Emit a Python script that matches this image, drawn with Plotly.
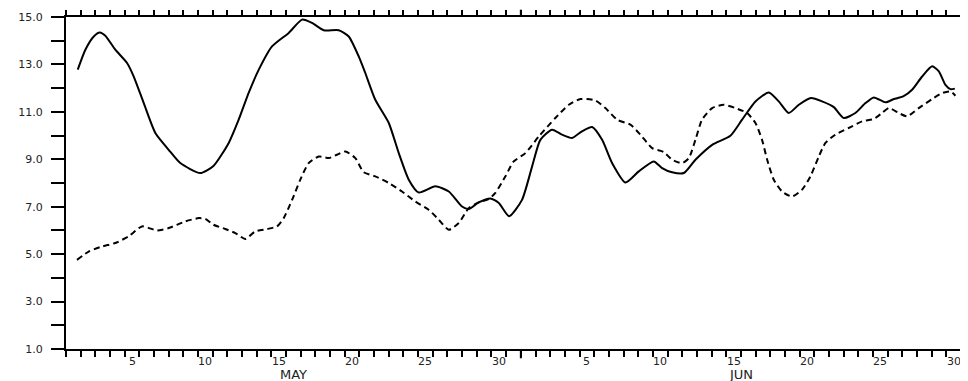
import plotly.graph_objects as go

# x: days since 1 May 00Z (May d centre = d-0.5, Jun d centre = 30.5+d)
solid_x = [0.80, 1.32, 1.89, 2.30, 2.68, 3.36, 4.16, 4.61, 5.30, 6.09, 7.00, 7.79, 9.15, 10.05,
           11.09, 11.77, 12.45, 13.14, 14.04, 15.18, 16.09, 16.77, 17.57, 18.59, 19.27, 19.95,
           20.38, 21.08, 22.00, 22.68, 23.36, 24.04, 25.17, 26.09, 26.99, 27.45, 28.13, 28.92,
           29.50, 30.20, 31.08, 31.77, 32.33, 33.13, 33.81, 34.49, 35.17, 35.86, 36.54, 37.22,
           38.13, 39.04, 40.06, 40.63, 41.31, 42.11, 42.90, 44.04, 45.28, 46.08, 46.99, 47.90,
           48.58, 49.26, 49.95, 50.78, 51.53, 52.33, 53.01, 53.80, 54.49, 55.06, 55.85, 56.42,
           57.06, 57.67, 58.35, 59.03, 59.49, 59.94, 60.28, 60.58]
solid_y = [12.78, 13.62, 14.18, 14.35, 14.21, 13.62, 13.06, 12.50, 11.37, 10.11, 9.40, 8.84, 8.42, 8.72,
           9.69, 10.67, 11.80, 12.78, 13.76, 14.33, 14.89, 14.75, 14.44, 14.44, 14.18, 13.34,
           12.67, 11.51, 10.53, 9.26, 8.14, 7.60, 7.86, 7.64, 7.01, 6.90, 7.18, 7.35,
           7.16, 6.60, 7.29, 8.70, 9.82, 10.25, 10.04, 9.90, 10.18, 10.36, 9.82, 8.84,
           8.02, 8.49, 8.91, 8.63, 8.45, 8.42, 8.98, 9.61, 9.99, 10.67, 11.44, 11.82,
           11.44, 10.95, 11.30, 11.58, 11.44, 11.20, 10.74, 10.95, 11.37, 11.61, 11.40, 11.54,
           11.65, 11.93, 12.49, 12.92, 12.71, 12.14, 11.96, 11.98]

dashed_x = [0.75, 1.55, 2.45, 3.36, 4.27, 5.18, 6.20, 7.00, 8.13, 9.05, 9.50, 10.05, 10.86, 11.54,
            12.22, 12.90, 13.70, 14.38, 14.84, 15.41, 15.97, 16.54, 17.23, 17.91, 18.47, 19.04,
            19.72, 20.28, 21.08, 22.00, 22.90, 23.81, 24.72, 25.41, 26.09, 26.77, 27.45, 28.13,
            28.81, 29.26, 29.95, 30.50, 31.31, 32.22, 33.35, 34.27, 35.06, 36.08, 36.76, 37.56,
            38.47, 39.15, 39.95, 40.73, 41.31, 41.99, 42.45, 42.90, 43.35, 44.04, 44.83, 45.62,
            46.42, 46.99, 47.44, 47.79, 48.24, 48.81, 49.49, 50.17, 50.74, 51.31, 51.76, 52.44,
            53.35, 54.26, 55.06, 55.62, 56.08, 56.76, 57.33, 58.12, 59.03, 59.71, 60.28, 60.62]
dashed_y = [4.76, 5.11, 5.32, 5.47, 5.75, 6.17, 6.00, 6.10, 6.38, 6.52, 6.49, 6.24, 6.06, 5.89,
            5.64, 5.96, 6.06, 6.17, 6.52, 7.29, 8.14, 8.84, 9.12, 9.05, 9.19, 9.33,
            9.05, 8.46, 8.28, 8.00, 7.64, 7.22, 6.87, 6.45, 6.03, 6.31, 6.94, 7.18,
            7.32, 7.58, 8.28, 8.90, 9.26, 9.96, 10.74, 11.30, 11.54, 11.48, 11.16, 10.67,
            10.46, 10.04, 9.47, 9.31, 8.98, 8.84, 9.05, 9.82, 10.67, 11.16, 11.30, 11.16,
            10.95, 10.53, 9.82, 8.98, 8.14, 7.64, 7.43, 7.72, 8.28, 9.12, 9.69, 10.04,
            10.32, 10.60, 10.70, 10.95, 11.16, 10.95, 10.81, 11.16, 11.54, 11.79, 11.86, 11.68]

months = ["MAY", "JUN"]
month_days = [31, 30]
day_labels = [5, 10, 15, 20, 25, 30]
y_ticks = list(range(1, 16))
y_labels = [f"{v:.1f}" if v % 2 == 1 else "" for v in y_ticks]

total_days = sum(month_days)
FONT = "DejaVu Sans"
TXT = "#222222"

fig = go.Figure()
fig.add_trace(go.Scatter(x=solid_x, y=solid_y, mode="lines",
                         line=dict(color="black", width=2, shape="spline", smoothing=0.6),
                         showlegend=False, hoverinfo="skip"))
fig.add_trace(go.Scatter(x=dashed_x, y=dashed_y, mode="lines",
                         line=dict(color="black", width=2, dash="6px,4px", shape="spline", smoothing=0.6),
                         showlegend=False, hoverinfo="skip"))
# helper trace so the mirrored top/right axes are drawn
fig.add_trace(go.Scatter(x=[None], y=[None], xaxis="x2", yaxis="y2", mode="lines",
                         showlegend=False, hoverinfo="skip"))

day_ticks = list(range(0, total_days + 1))

annotations = []
start = 0
for m, nd in zip(months, month_days):
    for d in day_labels:
        if d <= nd:
            annotations.append(dict(x=start + d - 0.5, y=-0.038, xref="x", yref="paper",
                                    text=str(d), showarrow=False, xanchor="center", yanchor="middle",
                                    font=dict(family=FONT, size=11, color=TXT)))
    annotations.append(dict(x=start + nd / 2, y=-0.076, xref="x", yref="paper",
                            text=m, showarrow=False, xanchor="center", yanchor="middle",
                            font=dict(family=FONT, size=13, color=TXT)))
    start += nd

shapes = []
boundary = month_days[0]
shapes.append(dict(type="line", xref="x", yref="paper", x0=boundary, x1=boundary,
                   y0=0, y1=-0.028, line=dict(color="black", width=2)))
shapes.append(dict(type="line", xref="x", yref="paper", x0=boundary, x1=boundary,
                   y0=1, y1=1.022, line=dict(color="black", width=2)))

common = dict(showgrid=False, zeroline=False, automargin=False,
              showline=True, linecolor="black", linewidth=2, tickcolor="black", tickwidth=1.5)

# page body has an 8px default margin, so the figure is sized to fit inside the window
fig.update_layout(
    template="none",
    width=960, height=373,
    margin=dict(l=58, r=7, t=9, b=32, pad=0),
    paper_bgcolor="white", plot_bgcolor="white",
    xaxis=dict(range=[0, total_days], tickmode="array", tickvals=day_ticks,
               ticks="outside", ticklen=6, showticklabels=False, **common),
    xaxis2=dict(range=[0, total_days], overlaying="x", side="top", anchor="y",
                tickmode="array", tickvals=day_ticks,
                ticks="outside", ticklen=5, showticklabels=False, **common),
    yaxis=dict(range=[1, 15], tickmode="array", tickvals=y_ticks, ticktext=y_labels,
               ticks="outside", ticklen=13, ticklabelstandoff=6,
               tickfont=dict(family=FONT, size=11, color=TXT), **common),
    yaxis2=dict(range=[1, 15], overlaying="y", side="right", anchor="x",
                tickmode="array", tickvals=y_ticks,
                ticks="outside", ticklen=7, showticklabels=False, **common),
    annotations=annotations,
    shapes=shapes,
)

fig.write_html("out.html")
